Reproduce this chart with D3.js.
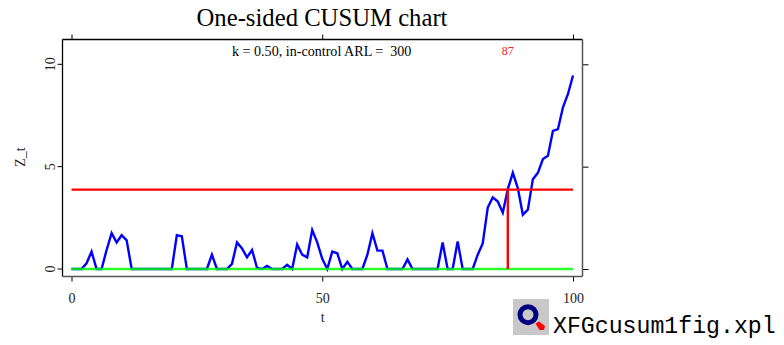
<!DOCTYPE html>
<html><head><meta charset="utf-8">
<style>html,body{margin:0;padding:0;background:#fff}svg{display:block}text{font-family:"Liberation Serif",serif}</style>
<script src="https://cdn.jsdelivr.net/npm/d3@7"></script></head><body>
<svg id="c" width="784" height="345"></svg>
<script>
const zt = [0,0,0,0.28,0.85,0,0,0.93,1.75,1.3,1.65,1.4,0,0,0,0,0,0,0,0,0,1.65,1.6,0,0,0,0,0,0.7,0,0,0,0.25,1.3,1.0,0.57,0.93,0.05,0,0.15,0,0,0,0.2,0,1.2,0.7,0.57,1.9,1.3,0.5,0,0.85,0.77,0,0.35,0,0,0,0.7,1.75,0.9,0.9,0,0,0,0,0.47,0,0,0,0,0,0,1.3,0,0,1.35,0,0,0,0.7,1.25,3.0,3.5,3.3,2.75,3.9,4.7,3.95,2.65,2.9,4.39,4.7,5.37,5.53,6.75,6.83,7.9,8.55,9.45];
const limit = 3.88;
const signalAt = 87;
const xTicks = [0,50,100];
const yTicks = [0,5,10];
const titleText = "One-sided CUSUM chart";
const noteText = "k = 0.50, in-control ARL =  300";
const fileText = "XFGcusum1fig.xpl";

const svg = d3.select("#c");
const L=62.5,R=582.5,T=39.5,B=276.5;
const x = d3.scaleLinear().domain([0,100]).range([71.5,573]);
const y = d3.scaleLinear().domain([0,10]).range([269,64.3]);
const ticks=(sel)=>{sel.selectAll("path").remove();sel.selectAll("line").attr("stroke","#000").attr("stroke-width",1);sel.selectAll("text").attr("font-family","Liberation Serif").attr("font-size",14).attr("fill","#222");};
svg.append("g").attr("transform",`translate(0,${B})`).call(d3.axisBottom(x).tickValues(xTicks).tickSize(5).tickPadding(12)).call(ticks);
svg.append("g").attr("transform",`translate(0,${T})`).call(d3.axisTop(x).tickValues(xTicks).tickSize(5).tickFormat("")).call(ticks);
svg.append("g").attr("transform",`translate(${R},0)`).call(d3.axisRight(y).tickValues(yTicks).tickSize(6).tickFormat("")).call(ticks);
const ly=svg.append("g").attr("transform",`translate(${L},0)`).call(d3.axisLeft(y).tickValues(yTicks).tickSize(5).tickFormat(d3.format("d"))).call(ticks);
ly.selectAll("g.tick").attr("transform","translate(0,0)");
ly.selectAll("line").attr("transform",d=>`translate(0,${y(d)})`);
ly.selectAll("text").attr("text-anchor","middle").attr("dy",0).attr("x",0).attr("y",0).attr("transform",d=>`translate(-7.5,${y(d)}) rotate(-90)`);
svg.append("line").attr("x1",L).attr("x2",R).attr("y1",T).attr("y2",T).attr("stroke","#000").attr("stroke-width",1.3);
svg.append("line").attr("x1",L).attr("x2",L).attr("y1",T).attr("y2",B).attr("stroke","#000").attr("stroke-width",1.3);
svg.append("line").attr("x1",R).attr("x2",R).attr("y1",T).attr("y2",B).attr("stroke","#555").attr("stroke-width",1.5);
svg.append("line").attr("x1",L).attr("x2",R).attr("y1",B).attr("y2",B).attr("stroke","#555").attr("stroke-width",1.5);

const line=d3.line().x((d,i)=>x(i)).y(d=>y(d));
svg.append("path").datum(zt).attr("d",line).attr("fill","none").attr("stroke","#0000ff").attr("stroke-width",2.4).attr("stroke-linejoin","miter");
svg.append("line").attr("x1",x(0)).attr("x2",x(100)).attr("y1",y(0)).attr("y2",y(0)).attr("stroke","#00ff00").attr("stroke-width",2.6).attr("stroke-opacity",.82);
svg.append("line").attr("x1",x(0)).attr("x2",x(100)).attr("y1",y(limit)).attr("y2",y(limit)).attr("stroke","#ff0000").attr("stroke-width",2.4);
svg.append("line").attr("x1",x(signalAt)).attr("x2",x(signalAt)).attr("y1",y(limit)).attr("y2",y(0)).attr("stroke","#ff0000").attr("stroke-width",2.4);

svg.append("text").attr("x",322).attr("y",25.5).attr("text-anchor","middle").attr("font-size",24.7).text(titleText);
svg.append("text").attr("x",232).attr("y",56).attr("font-size",14.1).style("white-space","pre").text(noteText);
svg.append("text").attr("x",x(signalAt)).attr("y",55).attr("text-anchor","middle").attr("font-size",12).attr("fill","#ff2020").text(signalAt);
svg.append("text").attr("x",322.7).attr("y",322).attr("text-anchor","middle").attr("font-size",14).attr("fill","#222").text("t");
svg.append("text").attr("transform","translate(25,157) rotate(-90)").attr("text-anchor","middle").attr("font-size",14).attr("fill","#222").text("Z_t");

const logo=svg.append("g");
logo.append("rect").attr("x",513).attr("y",299).attr("width",36).attr("height",36).attr("fill","#c8c8c8");
logo.append("circle").attr("cx",528).attr("cy",314.7).attr("r",8).attr("fill","none").attr("stroke","#00007f").attr("stroke-width",5);
logo.append("path").attr("d","M535.5 323.5 L539 321.5 L545 326 L544 330 L539.5 330 Z").attr("fill","#ff0000");
svg.append("text").attr("x",553).attr("y",333).attr("font-size",23.2).style("font-family","'Liberation Mono',monospace").text(fileText);
</script></body></html>
